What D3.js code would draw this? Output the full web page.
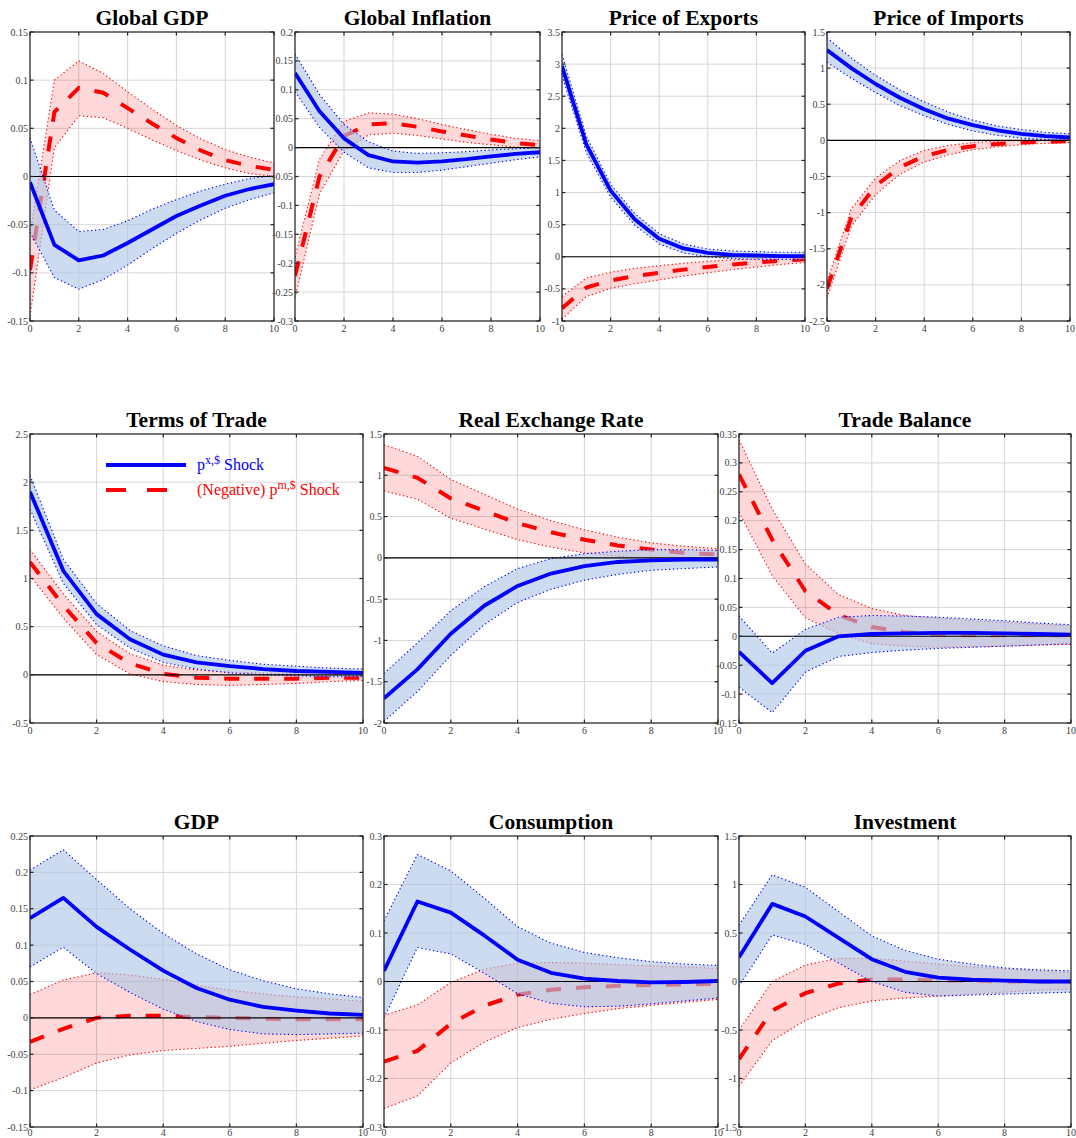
<!DOCTYPE html>
<html>
<head>
<meta charset="utf-8">
<script src="https://cdn.jsdelivr.net/npm/d3@7"></script>
<style>
  html, body { margin: 0; padding: 0; background: #fff; }
  svg { display: block; }
</style>
</head>
<body>
<svg id="chart" width="1076" height="1138"></svg>
<script>
// Impulse responses over a 10-quarter horizon.
// "X" = p^{x,$} shock, "M" = (negative) p^{m,$} shock; Lo/Hi = error bands.
const horizons = [0, 1, 2, 3, 4, 5, 6, 7, 8, 9, 10];

const panelTitles = ["Global GDP", "Global Inflation", "Price of Exports", "Price of Imports",
                     "Terms of Trade", "Real Exchange Rate", "Trade Balance",
                     "GDP", "Consumption", "Investment"];

// y-axis range and tick step per panel
const yMins  = [-0.15, -0.3, -1, -2.5, -0.5, -2, -0.15, -0.15, -0.3, -1.5];
const yMaxs  = [ 0.15,  0.2, 3.5, 1.5,  2.5, 1.5, 0.35,  0.25,  0.3,  1.5];
const ySteps = [ 0.05, 0.05, 0.5, 0.5,  0.5, 0.5, 0.05,  0.05,  0.1,  0.5];
const xTicks = [0, 2, 4, 6, 8, 10];

// Global GDP
const globalGdpX   = [-0.006, -0.071, -0.087, -0.082, -0.069, -0.055, -0.041, -0.030, -0.020, -0.013, -0.008];
const globalGdpXLo = [-0.058, -0.105, -0.117, -0.107, -0.092, -0.075, -0.059, -0.045, -0.033, -0.024, -0.017];
const globalGdpXHi = [ 0.040, -0.035, -0.057, -0.055, -0.046, -0.034, -0.024, -0.015, -0.008, -0.002,  0.001];
const globalGdpM   = [-0.097,  0.067,  0.092,  0.087,  0.071,  0.055,  0.040,  0.027,  0.017,  0.011,  0.007];
const globalGdpMLo = [-0.145,  0.030,  0.063,  0.061,  0.050,  0.038,  0.027,  0.017,  0.009,  0.003,  0.000];
const globalGdpMHi = [-0.060,  0.100,  0.120,  0.107,  0.088,  0.070,  0.053,  0.039,  0.028,  0.020,  0.014];

// Global Inflation
const globalInflX   = [0.129, 0.063, 0.016, -0.013, -0.024, -0.026, -0.024, -0.020, -0.015, -0.011, -0.008];
const globalInflXLo = [0.097, 0.035, -0.008, -0.035, -0.043, -0.043, -0.039, -0.033, -0.027, -0.021, -0.016];
const globalInflXHi = [0.162, 0.092, 0.040, 0.010, -0.006, -0.010, -0.009, -0.007, -0.004, -0.002, 0.000];
const globalInflM   = [-0.222, -0.050, 0.020, 0.040, 0.042, 0.036, 0.028, 0.021, 0.014, 0.008, 0.004];
const globalInflMLo = [-0.260, -0.080, -0.005, 0.022, 0.025, 0.021, 0.015, 0.009, 0.005, 0.001, -0.002];
const globalInflMHi = [-0.190, -0.020, 0.045, 0.060, 0.058, 0.050, 0.040, 0.031, 0.023, 0.016, 0.012];

// Price of Exports
const priceExpX   = [2.97, 1.75, 1.03, 0.58, 0.28, 0.13, 0.06, 0.03, 0.02, 0.01, 0.01];
const priceExpXLo = [2.82, 1.62, 0.93, 0.49, 0.20, 0.06, 0.00, -0.03, -0.04, -0.04, -0.04];
const priceExpXHi = [3.15, 1.88, 1.13, 0.67, 0.36, 0.20, 0.12, 0.09, 0.08, 0.07, 0.07];
const priceExpM   = [-0.80, -0.48, -0.37, -0.30, -0.25, -0.20, -0.16, -0.12, -0.09, -0.06, -0.04];
const priceExpMLo = [-0.97, -0.62, -0.49, -0.42, -0.36, -0.30, -0.25, -0.20, -0.16, -0.12, -0.09];
const priceExpMHi = [-0.62, -0.33, -0.24, -0.18, -0.14, -0.10, -0.07, -0.05, -0.03, -0.01, 0.00];

// Price of Imports
const priceImpX   = [1.25, 1.00, 0.78, 0.59, 0.43, 0.30, 0.21, 0.14, 0.09, 0.06, 0.04];
const priceImpXLo = [1.08, 0.86, 0.66, 0.48, 0.34, 0.22, 0.13, 0.07, 0.03, 0.01, 0.00];
const priceImpXHi = [1.42, 1.14, 0.90, 0.70, 0.53, 0.39, 0.28, 0.20, 0.15, 0.11, 0.09];
const priceImpM   = [-2.05, -1.07, -0.63, -0.37, -0.22, -0.13, -0.08, -0.05, -0.03, -0.02, -0.01];
const priceImpMLo = [-2.18, -1.19, -0.75, -0.47, -0.30, -0.20, -0.13, -0.09, -0.06, -0.04, -0.03];
const priceImpMHi = [-1.95, -0.95, -0.52, -0.28, -0.14, -0.07, -0.03, -0.01, 0.00, 0.01, 0.01];

// Terms of Trade
const totX   = [1.90, 1.08, 0.63, 0.37, 0.21, 0.13, 0.09, 0.06, 0.04, 0.03, 0.02];
const totXLo = [1.72, 0.95, 0.52, 0.28, 0.13, 0.06, 0.02, 0.00, -0.01, -0.02, -0.02];
const totXHi = [2.07, 1.20, 0.74, 0.46, 0.30, 0.20, 0.15, 0.11, 0.09, 0.07, 0.06];
const totM   = [1.17, 0.72, 0.33, 0.12, 0.01, -0.03, -0.04, -0.04, -0.04, -0.03, -0.03];
const totMLo = [1.03, 0.59, 0.21, 0.01, -0.07, -0.10, -0.11, -0.10, -0.09, -0.07, -0.06];
const totMHi = [1.30, 0.84, 0.45, 0.22, 0.10, 0.05, 0.03, 0.02, 0.01, 0.00, -0.01];

// Real Exchange Rate
const rerX   = [-1.70, -1.35, -0.92, -0.58, -0.34, -0.19, -0.10, -0.05, -0.03, -0.02, -0.02];
const rerXLo = [-1.98, -1.62, -1.18, -0.81, -0.54, -0.38, -0.27, -0.20, -0.15, -0.13, -0.11];
const rerXHi = [-1.40, -1.03, -0.64, -0.35, -0.13, -0.01, 0.05, 0.08, 0.10, 0.10, 0.09];
const rerM   = [1.09, 0.97, 0.72, 0.57, 0.42, 0.31, 0.22, 0.15, 0.10, 0.06, 0.04];
const rerMLo = [0.81, 0.71, 0.48, 0.35, 0.22, 0.13, 0.06, 0.02, -0.01, -0.03, -0.03];
const rerMHi = [1.37, 1.23, 0.95, 0.77, 0.59, 0.45, 0.34, 0.25, 0.18, 0.14, 0.11];

// Trade Balance
const tbX   = [-0.027, -0.081, -0.025, 0.000, 0.004, 0.005, 0.006, 0.006, 0.005, 0.004, 0.003];
const tbXLo = [-0.088, -0.132, -0.062, -0.035, -0.028, -0.024, -0.021, -0.019, -0.017, -0.015, -0.013];
const tbXHi = [0.035, -0.029, 0.012, 0.033, 0.036, 0.035, 0.033, 0.030, 0.027, 0.023, 0.020];
const tbM   = [0.280, 0.167, 0.078, 0.037, 0.016, 0.007, 0.003, 0.002, 0.002, 0.002, 0.002];
const tbMLo = [0.215, 0.105, 0.032, 0.005, -0.013, -0.017, -0.019, -0.018, -0.017, -0.015, -0.014];
const tbMHi = [0.340, 0.220, 0.125, 0.072, 0.048, 0.036, 0.031, 0.027, 0.024, 0.021, 0.018];

// GDP
const gdpX   = [0.137, 0.165, 0.125, 0.094, 0.065, 0.041, 0.025, 0.015, 0.010, 0.006, 0.004];
const gdpXLo = [0.070, 0.097, 0.061, 0.035, 0.012, -0.005, -0.016, -0.022, -0.023, -0.022, -0.021];
const gdpXHi = [0.203, 0.231, 0.190, 0.150, 0.116, 0.088, 0.066, 0.051, 0.040, 0.033, 0.028];
const gdpM   = [-0.033, -0.015, 0.000, 0.003, 0.003, 0.001, 0.000, -0.001, -0.002, -0.002, -0.002];
const gdpMLo = [-0.099, -0.082, -0.062, -0.051, -0.045, -0.042, -0.039, -0.035, -0.031, -0.028, -0.025];
const gdpMHi = [0.032, 0.052, 0.062, 0.059, 0.053, 0.045, 0.038, 0.033, 0.029, 0.026, 0.023];

// Consumption
const consX   = [0.022, 0.165, 0.142, 0.095, 0.045, 0.018, 0.006, 0.001, -0.002, -0.001, 0.001];
const consXLo = [-0.075, 0.070, 0.057, 0.017, -0.025, -0.045, -0.052, -0.051, -0.046, -0.040, -0.034];
const consXHi = [0.125, 0.262, 0.228, 0.172, 0.113, 0.079, 0.060, 0.049, 0.041, 0.036, 0.033];
const consM   = [-0.165, -0.143, -0.087, -0.050, -0.027, -0.017, -0.012, -0.009, -0.007, -0.006, -0.005];
const consMLo = [-0.262, -0.236, -0.168, -0.125, -0.095, -0.078, -0.066, -0.056, -0.049, -0.043, -0.037];
const consMHi = [-0.070, -0.048, -0.002, 0.025, 0.038, 0.039, 0.038, 0.035, 0.032, 0.030, 0.027];

// Investment
const invX   = [0.25, 0.80, 0.67, 0.45, 0.23, 0.10, 0.04, 0.02, 0.01, 0.00, 0.00];
const invXLo = [-0.05, 0.48, 0.38, 0.19, 0.00, -0.11, -0.15, -0.14, -0.13, -0.12, -0.11];
const invXHi = [0.58, 1.10, 0.97, 0.72, 0.47, 0.32, 0.23, 0.18, 0.14, 0.12, 0.11];
const invM   = [-0.80, -0.30, -0.12, -0.02, 0.02, 0.02, 0.01, 0.01, 0.00, 0.00, 0.00];
const invMLo = [-1.08, -0.61, -0.40, -0.27, -0.20, -0.17, -0.15, -0.13, -0.11, -0.09, -0.08];
const invMHi = [-0.50, 0.00, 0.17, 0.24, 0.24, 0.21, 0.18, 0.15, 0.13, 0.11, 0.09];

const seriesX = [
  [globalGdpX, globalGdpXLo, globalGdpXHi], [globalInflX, globalInflXLo, globalInflXHi],
  [priceExpX, priceExpXLo, priceExpXHi], [priceImpX, priceImpXLo, priceImpXHi],
  [totX, totXLo, totXHi], [rerX, rerXLo, rerXHi], [tbX, tbXLo, tbXHi],
  [gdpX, gdpXLo, gdpXHi], [consX, consXLo, consXHi], [invX, invXLo, invXHi]
];
const seriesM = [
  [globalGdpM, globalGdpMLo, globalGdpMHi], [globalInflM, globalInflMLo, globalInflMHi],
  [priceExpM, priceExpMLo, priceExpMHi], [priceImpM, priceImpMLo, priceImpMHi],
  [totM, totMLo, totMHi], [rerM, rerMLo, rerMHi], [tbM, tbMLo, tbMHi],
  [gdpM, gdpMLo, gdpMHi], [consM, consMLo, consMHi], [invM, invMLo, invMHi]
];

// ---- layout: plot boxes [left, right, top, bottom] ----
const boxes = [
  [30, 274, 32, 321], [295, 540, 32, 321], [562, 805, 32, 321], [827, 1070, 32, 321],
  [30, 363, 434, 723], [384, 718, 434, 723], [739, 1071, 434, 723],
  [30, 363, 836, 1127], [384, 718, 836, 1127], [739, 1071, 836, 1127]
];

const SERIF = "'Liberation Serif', 'Times New Roman', serif";
const BLUE = "#0000ff", RED = "#ff0000";
const BLUE_FILL = "rgb(175,198,230)", BLUE_ALPHA = 0.63;
const RED_FILL = "rgb(255,0,0)", RED_ALPHA = 0.15;

const svg = d3.select("#chart");
const fmt = v => String(+v.toFixed(3));

function drawPanel(i) {
  const [L, R, T, B] = boxes[i];
  const x = d3.scaleLinear().domain([0, 10]).range([L, R]);
  const y = d3.scaleLinear().domain([yMins[i], yMaxs[i]]).range([B, T]);
  const nY = Math.round((yMaxs[i] - yMins[i]) / ySteps[i]);
  const yTicks = d3.range(nY + 1).map(k => +(yMins[i] + k * ySteps[i]).toFixed(4));

  const g = svg.append("g");
  const clipId = "clip" + i;
  svg.append("clipPath").attr("id", clipId)
    .append("rect").attr("x", L).attr("y", T).attr("width", R - L).attr("height", B - T);

  // grid
  const grid = g.append("g").attr("stroke", "#d6d6d6").attr("stroke-width", 1);
  xTicks.forEach(t => grid.append("line")
    .attr("x1", x(t)).attr("x2", x(t)).attr("y1", T).attr("y2", B));
  yTicks.forEach(t => grid.append("line")
    .attr("x1", L).attr("x2", R).attr("y1", y(t)).attr("y2", y(t)));

  const plot = g.append("g").attr("clip-path", `url(#${clipId})`);
  const area = d3.area().x((d, k) => x(horizons[k])).y0(d => y(d[0])).y1(d => y(d[1]));
  const line = d3.line().x((d, k) => x(horizons[k])).y(d => y(d));

  function band(series, fill, alpha, edge) {
    const [mid, lo, hi] = series;
    plot.append("path").datum(lo.map((v, k) => [v, hi[k]]))
      .attr("d", area).attr("fill", fill).attr("fill-opacity", alpha).attr("stroke", "none");
    [lo, hi].forEach(s => plot.append("path").datum(s).attr("d", line)
      .attr("fill", "none").attr("stroke", edge).attr("stroke-width", 1.1)
      .attr("stroke-dasharray", "1.3,2.6"));
  }

  // (negative) p^{m,$} shock: band then dashed median
  band(seriesM[i], RED_FILL, RED_ALPHA, RED);
  plot.append("path").datum(seriesM[i][0]).attr("d", line)
    .attr("fill", "none").attr("stroke", RED).attr("stroke-width", 4)
    .attr("stroke-dasharray", "15,15");

  // p^{x,$} shock band drawn over the red response
  band(seriesX[i], BLUE_FILL, BLUE_ALPHA, BLUE);

  // zero line
  plot.append("line").attr("x1", L).attr("x2", R).attr("y1", y(0)).attr("y2", y(0))
    .attr("stroke", "#000").attr("stroke-width", 1.1);

  plot.append("path").datum(seriesX[i][0]).attr("d", line)
    .attr("fill", "none").attr("stroke", BLUE).attr("stroke-width", 3.8)
    .attr("stroke-linejoin", "round");

  // frame with inward ticks on all sides
  const frame = g.append("g").attr("stroke", "#262626").attr("stroke-width", 1.2);
  frame.append("rect").attr("x", L).attr("y", T).attr("width", R - L).attr("height", B - T)
    .attr("fill", "none");
  const tl = 3.5;
  xTicks.forEach(t => {
    frame.append("line").attr("x1", x(t)).attr("x2", x(t)).attr("y1", B).attr("y2", B - tl);
    frame.append("line").attr("x1", x(t)).attr("x2", x(t)).attr("y1", T).attr("y2", T + tl);
  });
  yTicks.forEach(t => {
    frame.append("line").attr("x1", L).attr("x2", L + tl).attr("y1", y(t)).attr("y2", y(t));
    frame.append("line").attr("x1", R).attr("x2", R - tl).attr("y1", y(t)).attr("y2", y(t));
  });

  // tick labels
  const lab = g.append("g").attr("font-family", SERIF).attr("font-size", 10).attr("fill", "#404040");
  const xLabY = Math.min(B + 11, 1136);
  xTicks.forEach(t => lab.append("text").attr("x", x(t)).attr("y", xLabY)
    .attr("text-anchor", "middle").text(fmt(t)));
  yTicks.forEach(t => lab.append("text").attr("x", L - 2).attr("y", y(t)).attr("dy", "0.35em")
    .attr("text-anchor", "end").text(fmt(t)));

  // title
  g.append("text").attr("x", (L + R) / 2).attr("y", T - 7)
    .attr("text-anchor", "middle").attr("font-family", SERIF)
    .attr("font-weight", "bold").attr("font-size", 21.5).attr("fill", "#000")
    .text(panelTitles[i]);
}

d3.range(panelTitles.length).forEach(drawPanel);

// legend inside the Terms of Trade panel
const legend = svg.append("g").attr("font-family", SERIF).attr("font-size", 16);
legend.append("line").attr("x1", 106).attr("x2", 186).attr("y1", 465).attr("y2", 465)
  .attr("stroke", BLUE).attr("stroke-width", 4);
legend.append("line").attr("x1", 106).attr("x2", 186).attr("y1", 490).attr("y2", 490)
  .attr("stroke", RED).attr("stroke-width", 4).attr("stroke-dasharray", "20,21");

const t1 = legend.append("text").attr("x", 197).attr("y", 470).attr("fill", BLUE);
t1.append("tspan").text("p");
t1.append("tspan").attr("dy", -6).attr("font-size", 12).text("x,$");
t1.append("tspan").attr("dy", 6).text(" Shock");

const t2 = legend.append("text").attr("x", 197).attr("y", 495).attr("fill", RED);
t2.append("tspan").text("(Negative) p");
t2.append("tspan").attr("dy", -6).attr("font-size", 12).text("m,$");
t2.append("tspan").attr("dy", 6).text(" Shock");
</script>
</body>
</html>
